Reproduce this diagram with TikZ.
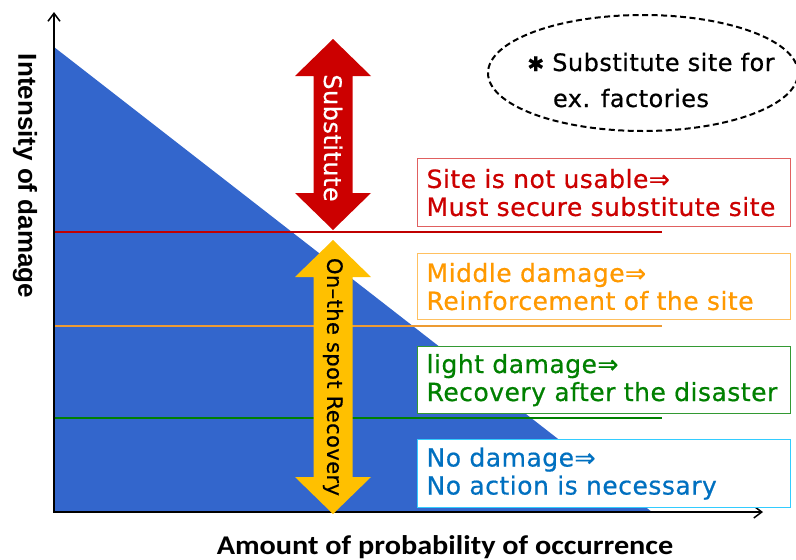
\documentclass[tikz,border=0pt]{standalone}
\usepackage{fontspec}
\setmainfont{DejaVu Sans}
\newfontfamily\boxfont[LetterSpace=2,FakeBold=0.6]{DejaVu Sans}
\newfontfamily\axisfont{Liberation Sans}
\newfontfamily\calibfont{Carlito}
\usetikzlibrary{arrows.meta}
\definecolor{bluefill}{RGB}{51,102,204}
\definecolor{redtext}{RGB}{204,0,0}
\definecolor{redborder}{RGB}{224,96,96}
\definecolor{redline}{RGB}{192,0,0}
\definecolor{orangetext}{RGB}{255,153,0}
\definecolor{orangeborder}{RGB}{255,192,96}
\definecolor{orangeline}{RGB}{237,155,51}
\definecolor{greentext}{RGB}{0,128,0}
\definecolor{greenborder}{RGB}{51,153,51}
\definecolor{greenline}{RGB}{0,128,0}
\definecolor{bluetext}{RGB}{0,112,192}
\definecolor{blueborder}{RGB}{51,204,255}
\definecolor{arrowred}{RGB}{204,0,0}
\definecolor{arrowyellow}{RGB}{255,192,0}
\begin{document}
\begin{tikzpicture}[x=1pt,y=-1pt,
  levelline/.style={line width=2.5pt},
  infobox/.style={draw, line width=1.2pt, fill=white, anchor=north west,
    minimum width=373pt, text width=355pt, inner xsep=9pt, inner ysep=0pt,
    align=left, font=\boxfont\fontsize{25}{28}\selectfont},
  axisline/.style={line width=2.5pt, arrows={Straight Barb[length=8pt,width=12pt,line width=1.5pt]-Straight Barb[length=8pt,width=12pt,line width=1.5pt]}},
  arrowtext/.style={rotate=-90, font=\boxfont\fontsize{24}{28}\selectfont}
]
\useasboundingbox (0,0) rectangle (796,560);
% blue area
\fill[bluefill] (54,47) -- (54,512) -- (652,512) -- cycle;
% level lines
\coordinate (rl) at (54,232); \coordinate (rr) at (662,232);
\coordinate (ol) at (54,326); \coordinate (or) at (662,326);
\coordinate (gl) at (54,418); \coordinate (gr) at (662,418);
\draw[levelline, redline] (rl) -- (rr);
\draw[levelline, orangeline] (ol) -- (or);
\draw[levelline, greenline] (gl) -- (gr);
% axes
\coordinate (O) at (54,512);
\coordinate (ytip) at (54,12);
\coordinate (xtip) at (763,512);
\draw[axisline] (ytip) -- (O) -- (xtip);
% boxes
\node[infobox, draw=redborder, text=redtext, minimum height=68pt] (bred) at (417,158)
  {Site is not usable⇒\\Must secure substitute site};
\node[infobox, draw=orangeborder, text=orangetext, minimum height=66pt] (borange) at (417,253)
  {Middle damage⇒\\Reinforcement of the site};
\node[infobox, draw=greenborder, text=greentext, minimum height=67pt] (bgreen) at (417,346)
  {light damage⇒\\Recovery after the disaster};
\node[infobox, draw=blueborder, text=bluetext, minimum height=68pt] (bblue) at (417,439)
  {No damage⇒\\No action is necessary};
% red double arrow
\fill[arrowred] (333,39) -- (371,76) -- (352.5,76) -- (352.5,193) -- (371,193) -- (333,230)
  -- (295,193) -- (313.5,193) -- (313.5,76) -- (295,76) -- cycle;
\node[arrowtext, text=white] (tsub) at (333,138) {Substitute};
% yellow double arrow
\fill[arrowyellow] (333,240) -- (371,277) -- (352.5,277) -- (352.5,477) -- (371,477) -- (333,514)
  -- (295,477) -- (313.5,477) -- (313.5,277) -- (295,277) -- cycle;
\node[arrowtext, text=black, font=\boxfont\fontsize{21}{24}\selectfont] (trec) at (333,377) {On–the spot Recovery};
% ellipse note
\draw[dashed, dash pattern=on 6pt off 3.5pt, line width=2pt] (643,73) ellipse [x radius=155pt, y radius=58pt];
\node[font=\boxfont\fontsize{24}{26}\selectfont, anchor=base] (n1) at (651,71) {{\fontsize{20}{20}\selectfont ✱} Substitute site for};
\node[font=\boxfont\fontsize{24}{26}\selectfont, anchor=base] (n2) at (631,107) {ex. factories};
% axis labels
\node[rotate=-90, font=\axisfont\bfseries\fontsize{26}{30}\selectfont] (ylab) at (25,176) {Intensity of damage};
\node[xscale=1.12, font=\calibfont\bfseries\fontsize{27}{30}\selectfont, anchor=base] (xlab) at (445,554) {Amount of probability of occurrence};
\end{tikzpicture}
\end{document}
